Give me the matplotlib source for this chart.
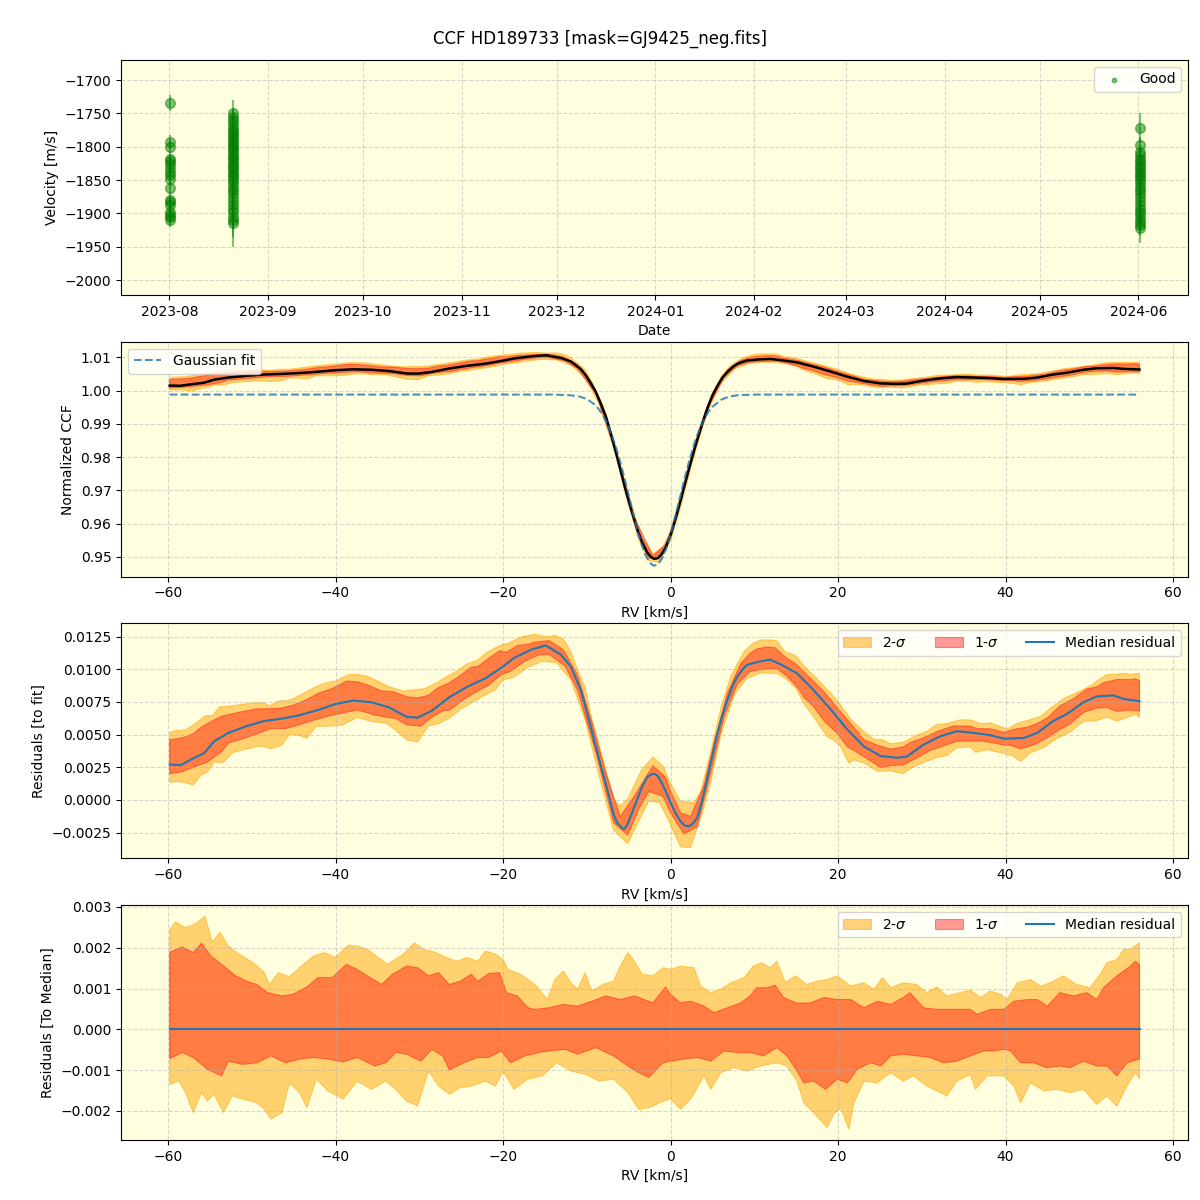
import numpy as np
import pandas as pd
import matplotlib
matplotlib.use('Agg')
import matplotlib.pyplot as plt
import matplotlib.dates as mdates

# ---- time series (velocity per night) ----
night1 = '2023-08-01 03:00'
vel1 = [-1735, -1793, -1800, -1818, -1822, -1826, -1832, -1838, -1843, -1848,
        -1862, -1880, -1883, -1887, -1898, -1902, -1906, -1910]
err1 = [12, 10, 10, 9, 10, 11, 10, 9, 10, 10, 9, 10, 10, 9, 10, 10, 9, 10]

night2 = '2023-08-21 03:00'
vel2 = [-1750, -1755, -1760, -1765, -1770, -1775, -1778, -1782, -1786, -1790,
        -1793, -1797, -1800, -1804, -1808, -1812, -1815, -1819, -1823, -1827,
        -1830, -1834, -1838, -1842, -1846, -1850, -1855, -1860, -1865, -1870,
        -1875, -1882, -1888, -1893, -1898, -1905, -1910, -1915]
err2 = [20, 12, 10, 10, 11, 10, 9, 10, 10, 11, 10, 10, 9, 10, 10, 11, 10, 10,
        9, 10, 10, 11, 10, 10, 9, 10, 10, 11, 10, 10, 12, 10, 11, 12, 14, 18, 25, 35]

night3 = '2024-06-01 08:00'
vel3 = [-1772, -1797, -1808, -1813, -1818, -1822, -1826, -1830, -1834, -1838,
        -1842, -1846, -1850, -1855, -1860, -1865, -1870, -1876, -1882, -1888,
        -1893, -1898, -1903, -1908, -1913, -1918, -1922]
err3 = [23, 12, 10, 10, 11, 10, 9, 10, 10, 11, 10, 10, 9, 10, 10, 11, 10, 10,
        9, 10, 10, 11, 10, 10, 12, 14, 23]

# ---- Gaussian fit to the CCF ----
fit_rv = [-60, -14, -13, -12, -11, -10, -9, -8.5, -8, -7.5, -7, -6.5, -6, -5.5,
          -5, -4.5, -4, -3.5, -3, -2.5, -2, -1.5, -1, -0.5, 0, 0.5, 1, 1.5,
          2, 2.5, 3, 3.5, 4, 4.5, 5, 6, 7, 8, 10, 56]
fit_ccf = [0.9988, 0.9988, 0.9987, 0.9986, 0.9983, 0.9975, 0.9957, 0.9942,
           0.9923, 0.9898, 0.9866, 0.9829, 0.9786, 0.9737, 0.9686, 0.9634,
           0.9585, 0.9541, 0.9506, 0.9483, 0.9473, 0.9478, 0.9496, 0.9526,
           0.9567, 0.9614, 0.9665, 0.9717, 0.9767, 0.9812, 0.9853, 0.9886,
           0.9913, 0.9935, 0.9951, 0.9972, 0.9982, 0.9986, 0.9988, 0.9988]

# ---- median residual to the fit ----
med_rv = [-59.8, -58.5, -57.0, -55.7, -54.5, -52.8, -50.6, -48.5, -46.4, -44.3,
          -42.1, -40.0, -37.9, -35.7, -33.6, -31.5, -30.2, -28.5, -26.4, -24.3,
          -22.1, -20.0, -18.7, -16.6, -14.9, -13.1, -11.9, -10.7, -10.1, -9.5,
          -9.0, -8.35, -7.7, -7.16, -6.8, -6.4, -5.77, -5.5, -5.17, -4.6,
          -3.98, -3.4, -2.78, -2.3, -1.91, -1.5, -1.19, -0.6, 0.0, 0.6,
          1.19, 1.7, 2.19, 2.7, 3.18, 3.8, 4.38, 5.0, 5.57, 6.2,
          6.76, 7.4, 7.96, 8.5, 9.15, 10.7, 11.9, 13.1,
          15.1, 17.1, 19.1, 21.1, 23.1, 25.1, 27.0, 28.2, 30.2, 32.2,
          34.2, 36.2, 38.2, 39.8, 42.2, 43.8, 45.7, 47.3, 49.3, 50.9,
          52.9, 54.1, 56.0]
med_res = [0.00271, 0.00266, 0.00318, 0.00357, 0.00448, 0.00513, 0.00565, 0.00604, 0.00622, 0.00648,
           0.00688, 0.00734, 0.00760, 0.00747, 0.00708, 0.00635, 0.00630, 0.00682, 0.00786, 0.00865,
           0.00930, 0.01020, 0.01086, 0.01151, 0.01182, 0.01112, 0.01020, 0.00839, 0.00700, 0.00552,
           0.00430, 0.00266, 0.00120, -0.00020, -0.00110, -0.00172, -0.00216, -0.00222, -0.00190, -0.00100,
           0.00005, 0.00100, 0.00174, 0.00195, 0.00200, 0.00182, 0.00148, 0.00070, -0.00020, -0.00100,
           -0.00164, -0.00195, -0.00203, -0.00180, -0.00138, 0.00000, 0.00161, 0.00340, 0.00500, 0.00650,
           0.00760, 0.00870, 0.00943, 0.00990, 0.01034, 0.01060, 0.01073, 0.01039,
           0.00969, 0.00839, 0.00695, 0.00539, 0.00409, 0.00336, 0.00323, 0.00331, 0.00422, 0.00487,
           0.00526, 0.00513, 0.00495, 0.00469, 0.00474, 0.00513, 0.00604, 0.00656, 0.00747, 0.00792,
           0.00800, 0.00773, 0.00755]

# ---- percentile bands relative to the median ----
s2u_rv = [-59.8, -59.1, -57.9, -56.6, -55.6, -54.7, -53.8, -52.8, -51.5, -49.8,
          -48.5, -47.9, -46.8, -45.5, -44.3, -42.6, -41.3, -40.0, -38.5, -37.4,
          -36.2, -34.9, -33.8, -31.9, -30.6, -29.4, -28.1, -26.8, -25.5, -24.3,
          -23.0, -22.1, -20.9, -20.0, -19.4, -17.9, -16.2, -14.7, -13.8, -12.8,
          -11.9, -11.1, -10.2, -9.4, -8.1, -6.8, -6.0, -5.1, -4.3, -3.4,
          -2.1, -0.9, 0.0, 1.2, 2.8, 3.6, 4.8, 6.0, 7.2, 8.8,
          9.9, 10.9, 11.9, 12.7, 13.7, 14.9, 16.3, 17.5, 18.7, 19.9,
          21.5, 23.1, 24.3, 25.3, 26.3, 27.8, 29.4, 30.6, 31.8, 33.0,
          34.6, 35.8, 37.0, 38.2, 39.4, 40.2, 41.4, 43.0, 44.2, 45.3,
          46.9, 48.5, 50.1, 51.3, 52.1, 53.3, 54.1, 54.9, 56.0]
s2u = [0.00245, 0.00263, 0.00249, 0.00260, 0.00278, 0.00214, 0.00238, 0.00204, 0.00184, 0.00163,
       0.00139, 0.00110, 0.00139, 0.00129, 0.00151, 0.00180, 0.00188, 0.00176, 0.00206, 0.00204,
       0.00196, 0.00176, 0.00159, 0.00184, 0.00212, 0.00196, 0.00189, 0.00176, 0.00167, 0.00176,
       0.00167, 0.00192, 0.00184, 0.00171, 0.00147, 0.00135, 0.00110, 0.00073, 0.00122, 0.00143,
       0.00114, 0.00098, 0.00139, 0.00094, 0.00110, 0.00118, 0.00155, 0.00188, 0.00167, 0.00135,
       0.00131, 0.00151, 0.00147, 0.00155, 0.00151, 0.00106, 0.00090, 0.00098, 0.00114, 0.00127,
       0.00155, 0.00163, 0.00151, 0.00167, 0.00114, 0.00131, 0.00110, 0.00118, 0.00122, 0.00131,
       0.00106, 0.00114, 0.00098, 0.00127, 0.00102, 0.00114, 0.00110, 0.00090, 0.00104, 0.00082,
       0.00090, 0.00096, 0.00078, 0.00094, 0.00086, 0.00073, 0.00114, 0.00122, 0.00106, 0.00114,
       0.00131, 0.00110, 0.00102, 0.00135, 0.00163, 0.00171, 0.00196, 0.00196, 0.00212]

s1u_rv = [-59.8, -58.3, -57.0, -56.0, -54.9, -53.6, -51.9, -50.6, -49.4, -48.1,
          -46.4, -45.1, -43.4, -42.1, -40.4, -38.7, -37.4, -36.2, -34.5, -33.2,
          -31.5, -30.2, -28.9, -27.7, -26.4, -25.1, -23.8, -23.0, -21.7, -20.4,
          -19.6, -18.3, -17.0, -16.2, -14.5, -12.8, -11.1, -9.4, -7.7, -6.0,
          -4.3, -2.1, -0.6, 0.0, 1.2, 2.4, 4.0, 5.2, 6.8, 8.4,
          9.5, 10.3, 11.5, 12.5, 13.5, 15.1, 16.7, 18.3, 19.9, 21.5,
          23.1, 24.7, 26.3, 27.8, 28.6, 30.2, 31.8, 33.8, 35.8, 36.6,
          38.2, 39.8, 41.0, 42.6, 43.8, 45.0, 46.5, 48.1, 49.7, 50.9,
          51.7, 53.3, 54.9, 55.5, 56.0]
s1u = [0.00189, 0.00202, 0.00188, 0.00211, 0.00180, 0.00159, 0.00131, 0.00118, 0.00110, 0.00090,
       0.00082, 0.00086, 0.00104, 0.00127, 0.00127, 0.00159, 0.00147, 0.00131, 0.00110, 0.00135,
       0.00155, 0.00151, 0.00131, 0.00139, 0.00110, 0.00118, 0.00135, 0.00118, 0.00137, 0.00139,
       0.00090, 0.00082, 0.00053, 0.00049, 0.00053, 0.00061, 0.00057, 0.00069, 0.00082, 0.00073,
       0.00082, 0.00065, 0.00104, 0.00086, 0.00065, 0.00069, 0.00057, 0.00041, 0.00053, 0.00065,
       0.00082, 0.00102, 0.00102, 0.00108, 0.00078, 0.00064, 0.00065, 0.00078, 0.00073, 0.00073,
       0.00053, 0.00069, 0.00061, 0.00078, 0.00090, 0.00053, 0.00049, 0.00049, 0.00049, 0.00037,
       0.00049, 0.00049, 0.00069, 0.00073, 0.00073, 0.00057, 0.00090, 0.00082, 0.00090, 0.00073,
       0.00102, 0.00131, 0.00155, 0.00167, 0.00159]

s1l_rv = [-59.8, -58.3, -57.0, -55.3, -53.6, -52.8, -51.1, -49.4, -47.7, -46.0,
          -44.3, -42.6, -40.9, -39.1, -37.4, -35.3, -34.0, -32.8, -31.5, -29.8,
          -28.5, -27.2, -26.4, -24.7, -23.0, -21.7, -20.2, -19.1, -17.4, -15.7,
          -14.5, -12.6, -11.1, -8.9, -6.8, -5.1, -3.8, -2.6, -0.9, 0.0,
          1.6, 3.2, 4.8, 6.4, 8.0, 9.5, 11.1, 12.7, 13.9, 15.1,
          15.9, 17.1, 18.5, 19.9, 21.1, 22.3, 23.9, 25.1, 26.3, 27.8,
          29.4, 31.0, 32.6, 34.2, 35.8, 37.4, 38.6, 39.8, 40.6, 41.8,
          43.4, 44.9, 46.5, 47.7, 49.3, 50.9, 52.1, 53.3, 54.5, 56.0]
s1l = [-0.00072, -0.00057, -0.00069, -0.00098, -0.00114, -0.00078, -0.00086, -0.00082, -0.00065, -0.00082,
       -0.00073, -0.00069, -0.00073, -0.00080, -0.00069, -0.00090, -0.00082, -0.00057, -0.00061, -0.00078,
       -0.00049, -0.00065, -0.00100, -0.00082, -0.00069, -0.00069, -0.00053, -0.00082, -0.00065, -0.00057,
       -0.00053, -0.00049, -0.00061, -0.00045, -0.00065, -0.00090, -0.00106, -0.00118, -0.00082, -0.00078,
       -0.00073, -0.00069, -0.00078, -0.00053, -0.00057, -0.00057, -0.00065, -0.00045, -0.00065, -0.00102,
       -0.00131, -0.00127, -0.00147, -0.00122, -0.00131, -0.00098, -0.00082, -0.00090, -0.00065, -0.00061,
       -0.00065, -0.00069, -0.00082, -0.00078, -0.00065, -0.00053, -0.00053, -0.00049, -0.00053, -0.00082,
       -0.00082, -0.00094, -0.00090, -0.00094, -0.00078, -0.00090, -0.00090, -0.00114, -0.00082, -0.00073]

s2l_rv = [-59.8, -58.7, -57.9, -57.0, -56.0, -55.3, -54.5, -53.4, -52.3, -51.1,
          -49.4, -48.5, -47.7, -46.4, -45.5, -44.3, -43.4, -42.3, -40.9, -39.1,
          -37.4, -35.7, -34.0, -32.8, -31.5, -30.2, -28.9, -27.7, -26.4, -25.1,
          -23.8, -22.1, -20.9, -20.0, -18.7, -17.0, -15.3, -13.6, -11.9, -10.2,
          -8.5, -6.8, -5.1, -3.8, -2.6, -1.3, 0.0, 1.2, 2.4, 4.0,
          4.8, 6.0, 7.6, 9.1, 10.7, 12.7, 13.9, 15.1, 15.9, 17.1,
          18.7, 19.5, 20.3, 21.3, 21.9, 23.1, 24.7, 26.3, 27.8, 29.0,
          30.6, 31.8, 33.0, 34.2, 35.8, 36.4, 37.8, 39.8, 41.0, 41.8,
          43.0, 44.6, 46.1, 47.7, 49.3, 50.9, 52.1, 53.3, 54.5, 55.5, 56.0]
s2l = [-0.00135, -0.00127, -0.00155, -0.00204, -0.00155, -0.00176, -0.00159, -0.00204, -0.00163, -0.00171,
       -0.00180, -0.00196, -0.00220, -0.00204, -0.00131, -0.00155, -0.00192, -0.00122, -0.00151, -0.00171,
       -0.00127, -0.00147, -0.00127, -0.00147, -0.00176, -0.00188, -0.00102, -0.00139, -0.00159, -0.00143,
       -0.00139, -0.00127, -0.00139, -0.00102, -0.00147, -0.00122, -0.00114, -0.00082, -0.00102, -0.00110,
       -0.00127, -0.00122, -0.00155, -0.00196, -0.00192, -0.00180, -0.00170, -0.00196, -0.00171, -0.00114,
       -0.00147, -0.00106, -0.00094, -0.00102, -0.00090, -0.00082, -0.00090, -0.00127, -0.00180, -0.00204,
       -0.00241, -0.00208, -0.00192, -0.00245, -0.00180, -0.00127, -0.00131, -0.00106, -0.00127, -0.00114,
       -0.00139, -0.00151, -0.00163, -0.00127, -0.00110, -0.00147, -0.00114, -0.00114, -0.00139, -0.00180,
       -0.00131, -0.00151, -0.00147, -0.00155, -0.00147, -0.00184, -0.00163, -0.00188, -0.00139, -0.00106, -0.00122]


def band(ax, xu, yu, xl, yl, color, alpha, label=None):
    xs = np.concatenate([xu, xl[::-1]])
    ys = np.concatenate([yu, yl[::-1]])
    ax.fill(xs, ys, facecolor=color, edgecolor=color, alpha=alpha, lw=0.8, label=label)


fig, axes = plt.subplots(4, 1, figsize=(12, 12))
fig.subplots_adjust(left=0.101, right=0.99, top=0.95, bottom=0.05, hspace=0.2)
fig.suptitle('CCF HD189733 [mask=GJ9425_neg.fits]', fontsize=12, y=0.975)

for ax in axes:
    ax.set_facecolor('lightyellow')
    ax.grid(True, linestyle='--', alpha=0.5)

# panel 1: velocities
ax = axes[0]
for night, vel, err in [(night1, vel1, err1), (night2, vel2, err2), (night3, vel3, err3)]:
    t = pd.to_datetime([night] * len(vel))
    ax.errorbar(t, vel, yerr=err, fmt='o', color='green', alpha=0.5, ms=7, elinewidth=1.5)
ax.scatter([], [], s=10, color='green', alpha=0.5, label='Good')
ax.set_ylim(-2022, -1670)
ax.xaxis.set_major_locator(mdates.MonthLocator())
ax.xaxis.set_major_formatter(mdates.DateFormatter('%Y-%m'))
ax.set_xlabel('Date')
ax.set_ylabel('Velocity [m/s]')
ax.legend(loc='upper right')

med_rv = np.array(med_rv)
med_res = np.array(med_res)
bands = [(np.array(s2u_rv), np.array(s2u), np.array(s2l_rv), np.array(s2l), 'orange', 0.5, '2-$\\sigma$'),
         (np.array(s1u_rv), np.array(s1u), np.array(s1l_rv), np.array(s1l), 'red', 0.4, '1-$\\sigma$')]

# panel 2: CCF
ax = axes[1]
ccf_med = np.interp(med_rv, fit_rv, fit_ccf) + med_res


def ccf_at(v):
    return np.interp(v, med_rv, ccf_med)


for xu, yu, xl, yl, c, a, lab in bands:
    band(ax, xu, ccf_at(xu) + yu, xl, ccf_at(xl) + yl, c, a)
ax.plot(med_rv, ccf_med, color='black', lw=1.8)
fit_line = np.array(fit_rv, dtype=float)
fit_line[0] = med_rv[0]
ax.plot(fit_line, fit_ccf, '--', color='C0', alpha=0.8, lw=1.5, label='Gaussian fit')
ax.set_xlabel('RV [km/s]')
ax.set_ylabel('Normalized CCF')
ax.legend(loc='upper left')

# panel 3: residuals to fit
ax = axes[2]
for xu, yu, xl, yl, c, a, lab in bands:
    band(ax, xu, np.interp(xu, med_rv, med_res) + yu, xl, np.interp(xl, med_rv, med_res) + yl, c, a, lab)
ax.plot(med_rv, med_res, color='C0', lw=1.5, label='Median residual')
ax.set_xlabel('RV [km/s]')
ax.set_ylabel('Residuals [to fit]')
ax.legend(loc='upper right', ncol=3)

# panel 4: residuals to median
ax = axes[3]
for xu, yu, xl, yl, c, a, lab in bands:
    band(ax, xu, yu, xl, yl, c, a, lab)
ax.plot(med_rv, np.zeros_like(med_rv), color='C0', lw=1.5, label='Median residual')
ax.set_xlabel('RV [km/s]')
ax.set_ylabel('Residuals [To Median]')
ax.legend(loc='upper right', ncol=3)

fig.savefig('out.png', dpi=100)
